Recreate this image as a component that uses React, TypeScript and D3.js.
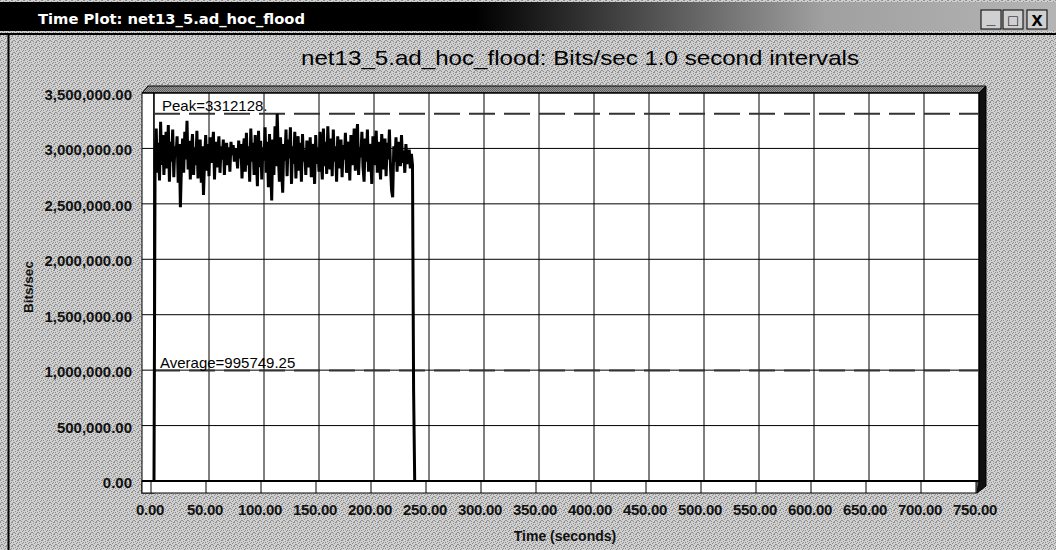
import React from 'react';
import * as d3 from 'd3';

// Bits/sec, one value per 1.0 s interval (thousands)
const rateK: number[] = [
  0,
  2920, 3180, 2780, 3050, 2710, 3240, 2850, 3120, 2760, 2990,
  3150, 2820, 3210, 2700, 3060, 2880, 3170, 2740, 3020, 2930,
  3110, 2690, 3040, 2470, 2860, 3090, 2780, 3150, 2900, 3250,
  2810, 3070, 2720, 2980, 3130, 2760, 3010, 2850, 3160, 2730,
  2950, 3080, 2690, 3020, 2580, 2910, 3120, 2800, 3040, 2750,
  3100, 2870, 2990, 3150, 2720, 3060, 2830, 2970, 3110, 2780,
  3020, 2900, 3080, 2760, 2990, 3050, 2850, 3010, 2790, 3060,
  2940, 3030, 2880, 3000, 2950, 2820, 3070, 2910, 3040, 2730,
  2980, 3090, 2790, 3140, 2850, 3020, 2700, 3180, 2880, 3050,
  2760, 3120, 2940, 2660, 3160, 2830, 3070, 2720, 3010, 2890,
  3190, 2780, 3060, 2650, 3130, 2870, 2530, 3080, 2760, 3200,
  2840, 3312, 2950, 2700, 3100, 2820, 2600, 3040, 2890, 3170,
  2750, 3080, 2910, 3190, 2680, 3020, 2860, 3150, 2730, 2990,
  3110, 2800, 3050, 2700, 3130, 2880, 2990, 2760, 3070, 2920,
  2830, 3100, 2740, 3040, 2950, 2680, 3120, 2860, 3010, 2790,
  3150, 2900, 2720, 3180, 2840, 3060, 2770, 3200, 2930, 2810,
  3090, 2750, 3170, 2880, 3020, 2700, 3110, 2960, 2820, 3080,
  2740, 3030, 2900, 3140, 2780, 2990, 3060, 2710, 3120, 2850,
  2960, 3180, 2800, 3070, 3220, 2760, 3010, 2920, 3150, 2830,
  2700, 3090, 2880, 3170, 2790, 3040, 2930, 2680, 3110, 2850,
  3000, 3160, 2780, 3060, 2890, 2720, 3130, 2960, 2810, 3090,
  2750, 3050, 2900, 3170, 2830, 2620, 2560, 3020, 2880, 3100,
  2790, 3060, 2930, 2840, 3120, 2870, 2980, 2780, 3040, 2900,
  2860, 2990, 2820, 2950, 2850, 820,
  0,
];

const yTicks = [0, 500000, 1000000, 1500000, 2000000, 2500000, 3000000, 3500000];
const xTicks = [0, 50, 100, 150, 200, 250, 300, 350, 400, 450, 500, 550, 600, 650, 700, 750];

const peak = 3312128;
const average = 995749.25;
const peakLabel = 'Peak=3312128.';
const averageLabel = 'Average=995749.25';

const windowTitle = 'Time Plot: net13_5.ad_hoc_flood';
const chartTitle = 'net13_5.ad_hoc_flood: Bits/sec 1.0 second intervals';

const W = 1056;
const H = 550;
const font = 'Arial, "Liberation Sans", sans-serif';

const x = d3.scaleLinear().domain([0, 750]).range([154, 979]);
const y = d3.scaleLinear().domain([0, 3500000]).range([481, 93]);

const fmtY = d3.format(',.2f');
const fmtX = d3.format('.2f');

// scattered dark pixels for the scanned-gray window texture
const ditherDots = [
  [0, 0], [3, 1], [1, 2], [4, 3], [2, 4], [0, 5], [5, 0], [3, 5], [1, 4], [5, 2],
];

const App = () => {
  const line = d3
    .line<number>()
    .x((_, i) => x(i))
    .y(d => y(d * 1000));

  const left = x(0);
  const right = x(750);
  const top = y(3500000);
  const bottom = y(0);

  return (
    <svg width={W} height={H} style={{ position: 'absolute', left: 0, top: 0, display: 'block' }}>
      <defs>
        <pattern id="dither" width="6" height="6" patternUnits="userSpaceOnUse">
          <rect width="6" height="6" fill="#d0d0d0" />
          {ditherDots.map(([dx, dy]) => (
            <rect key={dx + '-' + dy} x={dx} y={dy} width="1" height="1" fill="#8e8e8e" />
          ))}
        </pattern>
        <pattern id="ditherDark" width="2" height="2" patternUnits="userSpaceOnUse">
          <rect width="2" height="2" fill="#9a9a9a" />
          <rect width="1" height="1" fill="#606060" />
          <rect x="1" y="1" width="1" height="1" fill="#606060" />
        </pattern>
        <linearGradient id="barGrad" x1="0" x2="1" y1="0" y2="0">
          <stop offset="0" stopColor="#000" />
          <stop offset="0.45" stopColor="#000" />
          <stop offset="0.78" stopColor="#a0a0a0" />
          <stop offset="1" stopColor="#b4b4b4" />
        </linearGradient>
      </defs>

      {/* window background */}
      <rect width={W} height={H} fill="url(#dither)" />

      {/* title bar */}
      <rect x={0} y={2} width={W} height={29} fill="url(#barGrad)" />
      <text
        x={38}
        y={24}
        fill="#fff"
        fontFamily="Tahoma, 'DejaVu Sans', sans-serif"
        fontWeight="bold"
        fontSize={14}
        textLength={267}
        lengthAdjust="spacingAndGlyphs"
      >
        {windowTitle}
      </text>
      {[
        { bx: 981, label: '_' },
        { bx: 1003, label: '□' },
        { bx: 1027, label: 'x' },
      ].map(b => (
        <g key={b.bx}>
          <rect x={b.bx} y={10} width={20} height={19} fill="#d0d0d0" stroke="#000" strokeWidth={1} />
          <text
            x={b.bx + 10}
            y={b.label === '_' ? 24 : 26}
            textAnchor="middle"
            fontFamily={font}
            fontWeight="bold"
            fontSize={b.label === 'x' ? 20 : 16}
            fill="#000"
          >
            {b.label}
          </text>
        </g>
      ))}
      <line x1={0} x2={W} y1={34} y2={34} stroke="#000" strokeWidth={2} />
      <line x1={8.5} x2={8.5} y1={34} y2={H} stroke="#000" strokeWidth={2} />

      {/* chart title */}
      <text
        x={580}
        y={65}
        textAnchor="middle"
        fontFamily={font}
        fontSize={21}
        fill="#000"
        textLength={558}
        lengthAdjust="spacingAndGlyphs"
      >
        {chartTitle}
      </text>

      {/* 3D frame: top face, right face, left strip, floor */}
      <polygon
        points={`${left - 12},${top} ${left - 6},${top - 7} ${right + 7},${top - 7} ${right},${top}`}
        fill="url(#ditherDark)"
        stroke="#000"
      />
      <polygon
        points={`${right},${top} ${right + 7},${top - 7} ${right + 7},${bottom + 5} ${right - 2},${bottom + 12} ${right},${bottom}`}
        fill="#111"
        stroke="#000"
      />
      <rect x={left - 12} y={top} width={12} height={bottom - top + 12} fill="#fff" stroke="#000" />
      <rect x={left - 12} y={bottom} width={right - left + 10} height={12} fill="#fff" stroke="#000" />

      {/* back wall */}
      <rect x={left} y={top} width={right - left} height={bottom - top} fill="#fff" stroke="#000" />

      {/* grid */}
      {yTicks.map(t => (
        <line key={'gy' + t} x1={left - 12} x2={right} y1={y(t)} y2={y(t)} stroke="#000" strokeWidth={1} />
      ))}
      {xTicks.map(t => (
        <line key={'gx' + t} x1={x(t)} x2={x(t)} y1={top} y2={bottom} stroke="#000" strokeWidth={1} />
      ))}
      {xTicks.map(t => (
        <line key={'fx' + t} x1={x(t) - 3} x2={x(t) - 3} y1={bottom} y2={bottom + 12} stroke="#000" strokeWidth={1} />
      ))}
      <line x1={left - 12} x2={right} y1={bottom} y2={bottom} stroke="#000" strokeWidth={2} />

      {/* peak / average markers */}
      <line x1={left} x2={right} y1={y(peak)} y2={y(peak)} stroke="#333" strokeWidth={2} strokeDasharray="26 9" />
      <line x1={left} x2={right} y1={y(average)} y2={y(average)} stroke="#333" strokeWidth={2} strokeDasharray="26 9" />
      <text x={162} y={y(peak) - 3} fontFamily={font} fontSize={15} fill="#000">
        {peakLabel}
      </text>
      <text x={160} y={y(average) - 3} fontFamily={font} fontSize={15} fill="#000">
        {averageLabel}
      </text>

      {/* series */}
      <path d={line(rateK) || ''} fill="none" stroke="#000" strokeWidth={3} strokeLinejoin="miter" />

      {/* axes labels */}
      {yTicks.map(t => (
        <text key={'ly' + t} x={132} y={y(t) + 7} textAnchor="end" fontFamily={font} fontWeight="bold" fontSize={15} fill="#111">
          {fmtY(t)}
        </text>
      ))}
      {xTicks.map(t => (
        <text key={'lx' + t} x={x(t) - 4} y={515} textAnchor="middle" fontFamily={font} fontWeight="bold" fontSize={15} fill="#111" letterSpacing={-0.3}>
          {fmtX(t)}
        </text>
      ))}
      <text x={565} y={541} textAnchor="middle" fontFamily={font} fontWeight="bold" fontSize={14} fill="#111">
        Time (seconds)
      </text>
      <text
        transform={`translate(33,${(top + bottom) / 2}) rotate(-90)`}
        textAnchor="middle"
        fontFamily={font}
        fontWeight="bold"
        fontSize={13.5}
        fill="#111"
      >
        Bits/sec
      </text>
    </svg>
  );
};

export default App;
